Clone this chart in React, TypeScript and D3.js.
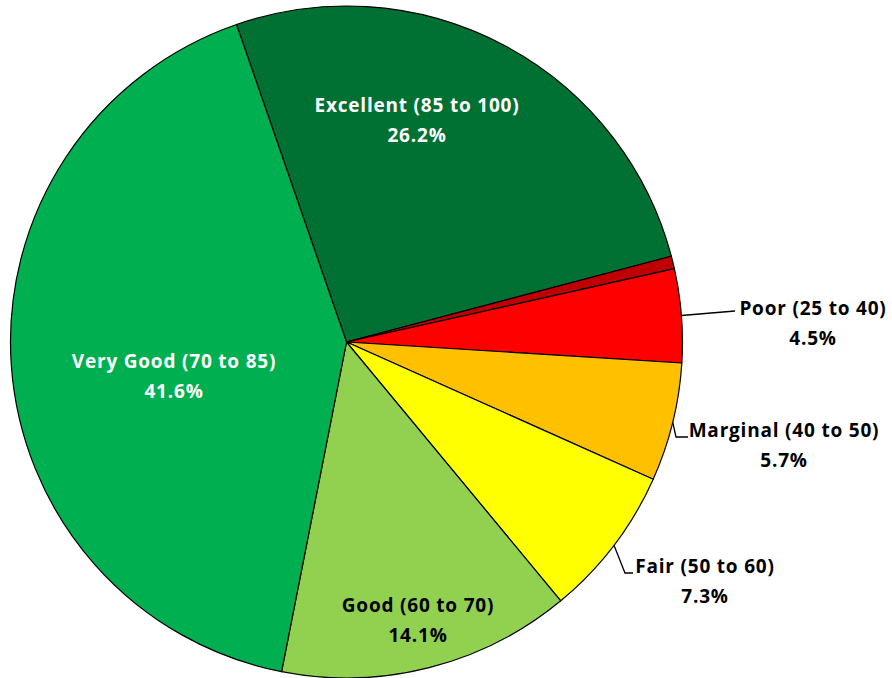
import React from "react";
import * as d3 from "d3";

const categories = ["Excellent (85 to 100)", "Very Poor", "Poor (25 to 40)", "Marginal (40 to 50)", "Fair (50 to 60)", "Good (60 to 70)", "Very Good (70 to 85)"];
const values = [26.2, 0.6, 4.5, 5.7, 7.3, 14.1, 41.6];
const percentLabels = ["26.2%", "", "4.5%", "5.7%", "7.3%", "14.1%", "41.6%"];
const colors = ["#007033", "#C00000", "#FF0000", "#FFC000", "#FFFF00", "#92D050", "#00B050"];
const showLabel = [true, false, true, true, true, true, true];

// label layout: inside (white/black text) or outside with leader
type Layout = { x: number; y: number; anchor: string; fill: string; leader?: [number, number][] };
const layouts: Layout[] = [
  { x: 417, y: 105, anchor: "middle", fill: "#fff" },
  { x: 0, y: 0, anchor: "middle", fill: "#000" },
  { x: 813, y: 308, anchor: "middle", fill: "#000", leader: [[735, 311]] },
  { x: 784, y: 430, anchor: "middle", fill: "#000", leader: [[676, 437], [688, 437]] },
  { x: 705, y: 566, anchor: "middle", fill: "#000", leader: [[625, 573], [633, 573]] },
  { x: 418, y: 605, anchor: "middle", fill: "#000" },
  { x: 174, y: 361, anchor: "middle", fill: "#fff" },
];

const W = 892, H = 678;
const cx = 346.5, cy = 342, R = 336;
const startDeg = -19.1;

export default function App() {
  const pie = d3.pie<number>().sort(null).value((d) => d)
    .startAngle((startDeg * Math.PI) / 180)
    .endAngle((startDeg * Math.PI) / 180 + 2 * Math.PI);
  const arcs = pie(values);
  const arc = d3.arc<d3.PieArcDatum<number>>().innerRadius(0).outerRadius(R);
  const font = "'Open Sans', sans-serif";
  return (
    <svg width={W} height={H} style={{ position: "absolute", left: 0, top: 0 }}>
      <rect width={W} height={H} fill="#fff" />
      <g transform={`translate(${cx},${cy})`}>
        {arcs.map((a, i) => (
          <path key={i} d={arc(a) || ""} fill={colors[i]} stroke="#000" strokeWidth={1.2} />
        ))}
      </g>
      {arcs.map((a, i) => {
        const L = layouts[i];
        if (!showLabel[i]) return null;
        let leader = null;
        if (L.leader) {
          const mid = (a.startAngle + a.endAngle) / 2;
          const p0: [number, number] = [cx + R * Math.sin(mid), cy - R * Math.cos(mid)];
          const pts = [p0, ...L.leader];
          leader = <path d={d3.line()(pts) || ""} fill="none" stroke="#000" strokeWidth={1.3} />;
        }
        return (
          <g key={"l" + i} fontFamily={font} fontWeight="bold" fontSize={19} letterSpacing={0.8} fill={L.fill}>
            {leader}
            <text x={L.x} y={L.y} textAnchor={L.anchor} dominantBaseline="central">
              {categories[i]}
            </text>
            <text x={L.x} y={L.y + 30} textAnchor={L.anchor} dominantBaseline="central">
              {percentLabels[i]}
            </text>
          </g>
        );
      })}
    </svg>
  );
}
